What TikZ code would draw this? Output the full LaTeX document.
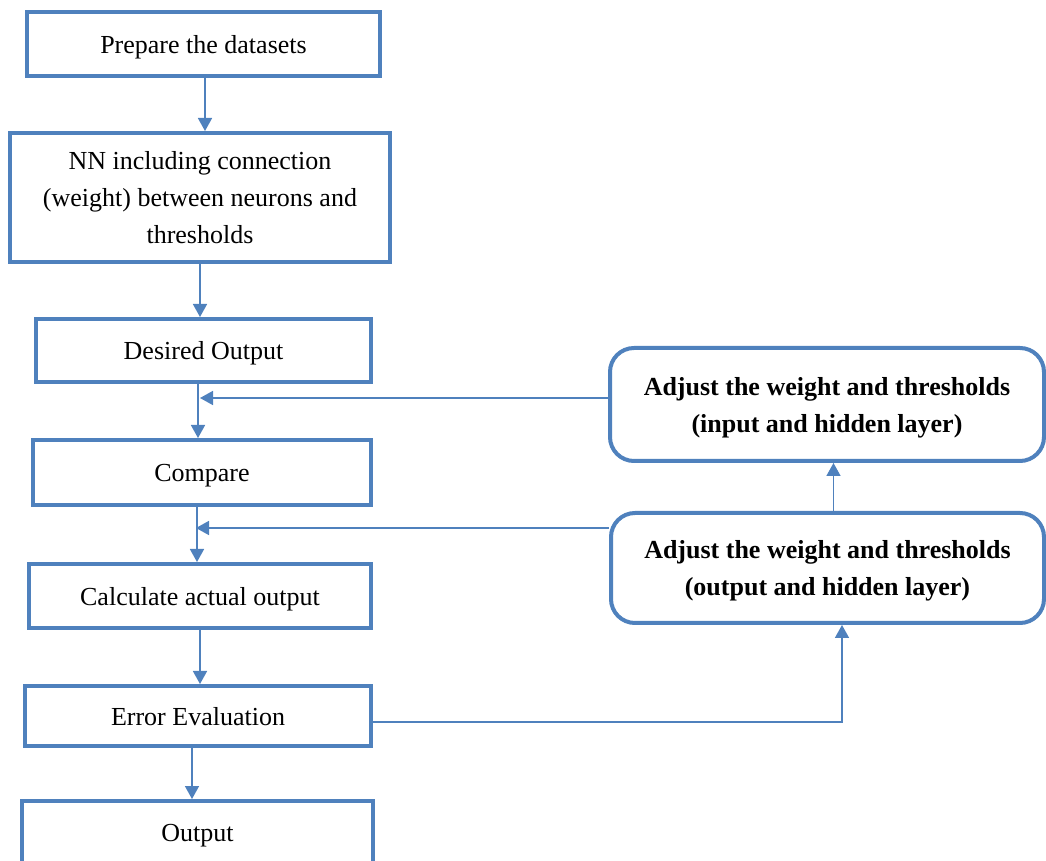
\documentclass[tikz,border=0pt]{standalone}
\usepackage{fontspec}
\setmainfont{Liberation Serif}
\usetikzlibrary{positioning, arrows.meta}
\definecolor{boxblue}{HTML}{4F81BD}

\tikzset{
  stepbox/.style={draw=boxblue, line width=2pt, fill=white, align=center, inner sep=0pt,
    text depth=0pt, font=\fontsize{13}{18.3}\selectfont},
  adjbox/.style={stepbox, rounded corners=12pt, font=\fontsize{13}{18.5}\selectfont\bfseries},
  arr/.style={draw=boxblue, line width=0.8pt, -{Triangle[length=6.5pt,width=7pt]}}
}

\begin{document}
\begin{tikzpicture}[x=0.5pt, y=-0.5pt]
    \clip (0,0) rectangle (1046,861);

    % Main column
    \node[stepbox, minimum width=176.5pt, minimum height=32pt] (prep) at (203.5,44) {Prepare the datasets};
    \node[stepbox, minimum width=190pt, minimum height=64.5pt] (nn) at (200,197.5)
        {NN including connection\\(weight) between neurons and\\thresholds};
    \node[stepbox, minimum width=167.5pt, minimum height=31.5pt] (desired) at (203.5,350.5) {Desired Output};
    \node[stepbox, minimum width=169pt, minimum height=32.5pt] (compare) at (202,472.5) {Compare};
    \node[stepbox, minimum width=171pt, minimum height=32pt] (calc) at (200,596) {Calculate actual output};
    \node[stepbox, minimum width=173pt, minimum height=30pt] (err) at (198,716) {Error Evaluation};
    \node[stepbox, minimum width=175.5pt, minimum height=32pt] (out) at (197.5,833) {Output};

    % Adjusting boxes
    \node[adjbox, minimum width=217pt, minimum height=56.5pt] (adjin) at (827,404.5)
        {Adjust the weight and thresholds\\(input and hidden layer)};
    \node[adjbox, minimum width=216.5pt, minimum height=55pt] (adjout) at (827.5,568)
        {Adjust the weight and thresholds\\(output and hidden layer)};

    % Forward arrows
    \draw[arr] ([xshift=0.75pt]prep.south) -- ([xshift=0.75pt]prep.south |- nn.north);
    \draw[arr] (nn.south) -- (nn.south |- desired.north);
    \draw[arr] ([xshift=-2.75pt]desired.south) -- ([xshift=-2.75pt]desired.south |- compare.north);
    \draw[arr] ([xshift=-2.5pt]compare.south) -- ([xshift=-2.5pt]compare.south |- calc.north);
    \draw[arr] (calc.south) -- (calc.south |- err.north);
    \draw[arr] ([xshift=-3pt]err.south) -- ([xshift=-3pt]err.south |- out.north);

    % Feedback
    \draw[arr] ([yshift=3.25pt]adjin.west) -- ([xshift=-1.75pt,yshift=3.25pt]desired.south |- adjin.west);
    \draw[arr] ([yshift=20pt]adjout.west) -- ([xshift=-3pt,yshift=20pt]compare.south |- adjout.west);
    \draw[arr] ([yshift=-3pt]err.east) -| ([xshift=7.25pt]adjout.south);
    \draw[arr] ([xshift=3pt]adjout.north) -- ([xshift=3pt]adjout.north |- adjin.south);
\end{tikzpicture}
\end{document}
